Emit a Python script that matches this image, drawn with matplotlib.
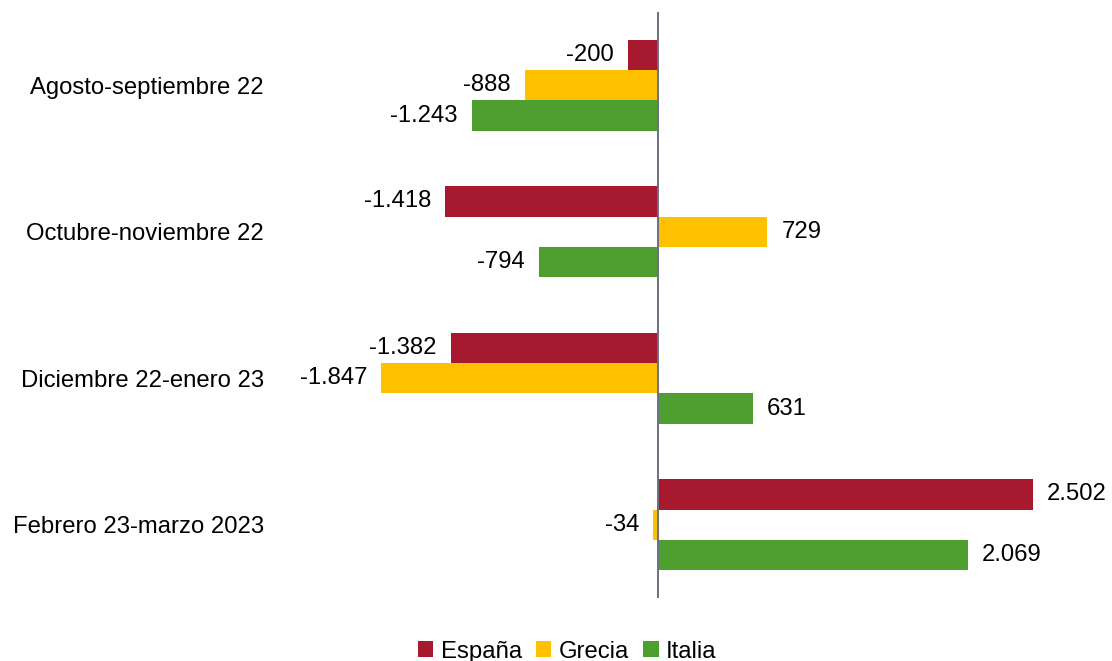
import matplotlib.pyplot as plt
import numpy as np

plt.rcParams['font.family'] = ['Liberation Sans', 'DejaVu Sans']

# Periodos y variaciones por país
periodos = ["Agosto-septiembre 22", "Octubre-noviembre 22",
            "Diciembre 22-enero 23", "Febrero 23-marzo 2023"]
espana = [-200, -1418, -1382, 2502]
grecia = [-888, 729, -1847, -34]
italia = [-1243, -794, 631, 2069]

series = [("España", espana, "#A6192E"),
          ("Grecia", grecia, "#FFC000"),
          ("Italia", italia, "#4E9F30")]


def fmt(v):
    # separador de miles con punto
    s = f"{abs(v):,}".replace(",", ".")
    return ("-" if v < 0 else "") + s


fig = plt.figure(figsize=(11.12, 6.61), dpi=100)
ax = fig.add_axes([275 / 1112, 1 - 598 / 661, (1100 - 275) / 1112, (598 - 12) / 661])

y = np.arange(len(periodos))
h = 0.208
for i, (nombre, vals, color) in enumerate(series):
    pos = y + (i - 1) * h
    ax.barh(pos, vals, height=h, color=color, label=nombre)
    for p, v in zip(pos, vals):
        off = 14 if v >= 0 else -14
        ax.annotate(fmt(v), (v, p), xytext=(off, 0), textcoords="offset pixels",
                    ha="left" if v >= 0 else "right", va="center", fontsize=17.2)

ax.axvline(0, color="#6E6E85", lw=1.4)
ax.set_xlim(-(658 - 275) / 0.1499, (1100 - 658) / 0.1499)
ax.set_ylim(len(periodos) - 0.5, -0.5)
ax.set_yticks(y)
ax.set_yticklabels(periodos, fontsize=17.2)
ax.tick_params(axis="y", length=0, pad=8)
ax.set_xticks([])
for s in ax.spines.values():
    s.set_visible(False)

fig.legend(loc="lower center", bbox_to_anchor=(0.51, -0.035), ncol=3, frameon=False,
           fontsize=17.2, handlelength=0.65, handleheight=0.65, handletextpad=0.3,
           columnspacing=0.6)

fig.savefig("out.png", dpi=100)
